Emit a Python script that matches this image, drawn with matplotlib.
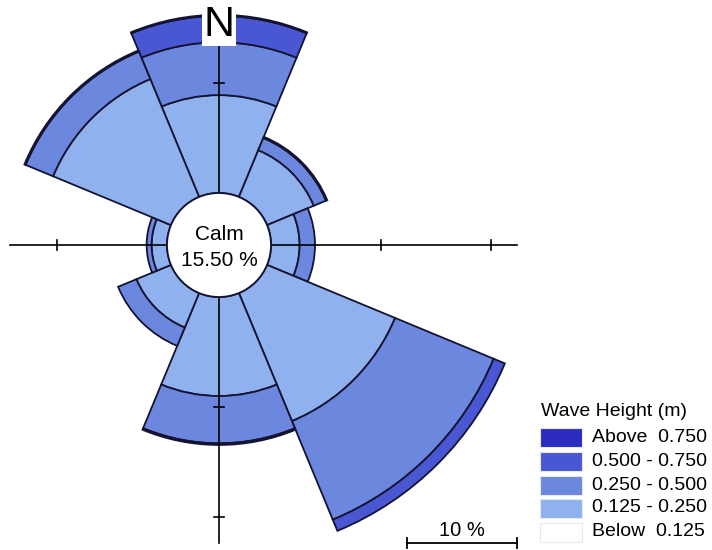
import numpy as np
import matplotlib
matplotlib.use('Agg')
import matplotlib.pyplot as plt
from matplotlib.patches import Wedge, Circle, Rectangle

plt.rcParams['font.family'] = ['Liberation Sans', 'DejaVu Sans']

# 波高玫瑰图数据 (百分比)
directions = ['N', 'NE', 'E', 'SE', 'S', 'SW', 'W', 'NW']
dir_deg = [0, 45, 90, 135, 180, 225, 270, 315]
h_below_0125 = [0.0, 0.0, 0.0, 0.0, 0.0, 0.0, 0.0, 0.0]
h_0125_0250 = [8.9, 4.6, 2.6, 12.6, 9.0, 3.4, 1.4, 11.6]
h_0250_0500 = [4.8, 1.2, 1.4, 9.7, 4.3, 1.8, 0.45, 2.7]
h_0500_0750 = [2.4, 0.12, 0.0, 1.1, 0.15, 0.0, 0.0, 0.12]
h_above_0750 = [0.1, 0.0, 0.0, 0.0, 0.0, 0.0, 0.0, 0.0]
calm_pct = 15.50

bands = [h_below_0125, h_0125_0250, h_0250_0500, h_0500_0750, h_above_0750]
band_labels = ['Below  0.125', '0.125 - 0.250', '0.250 - 0.500',
               '0.500 - 0.750', 'Above  0.750']
band_colors = ['#ffffff', '#8fb1ee', '#6b87de', '#4a57d2', '#2b2cbf']

W, H = 712, 550
cx, cy = 219, H - 245      # 圆心 (像素)
calm_r = 52                 # 静风圆半径
k = 11.0                    # 1% 对应像素
edge = '#141432'

fig = plt.figure(figsize=(W / 100, H / 100), dpi=100)
ax = fig.add_axes([0, 0, 1, 1])
ax.set_xlim(0, W)
ax.set_ylim(0, H)
ax.set_aspect('equal')
ax.axis('off')

# 扇形
for i, d in enumerate(dir_deg):
    r0 = calm_r
    t1 = 90 - d - 22.5
    t2 = 90 - d + 22.5
    for b, vals in enumerate(bands):
        v = vals[i]
        if v <= 0:
            continue
        r1 = r0 + v * k
        ax.add_patch(Wedge((cx, cy), r1, t1, t2, width=r1 - r0,
                           facecolor=band_colors[b], edgecolor=edge,
                           linewidth=1.3, zorder=2))
        r0 = r1

# 坐标轴十字线
ax.plot([10, 517], [cy, cy], color='black', lw=1.2, zorder=3)
ax.plot([cx, cx], [H - 543, H - 45], color='black', lw=1.2, zorder=3)
for p in [10, 20]:
    r = calm_r + p * k
    for sx, sy in [(1, 0), (-1, 0), (0, 1), (0, -1)]:
        tx, ty = cx + sx * r, cy + sy * r
        if tx < 10 or ty > H - 45:
            continue
        if sx != 0:
            ax.plot([tx, tx], [ty - 5, ty + 5], color='black', lw=1.2, zorder=3)
        else:
            ax.plot([tx - 5, tx + 5], [ty, ty], color='black', lw=1.2, zorder=3)

# 静风圆
ax.add_patch(Circle((cx, cy), calm_r, facecolor='white', edgecolor=edge,
                    linewidth=1.3, zorder=4))
ax.text(cx, H - 235, 'Calm', ha='center', va='center', fontsize=15, zorder=5)
ax.text(cx, H - 261, '%.2f %%' % calm_pct, ha='center', va='center',
        fontsize=15, zorder=5)

# 北
ax.text(cx, H - 25, 'N', ha='center', va='center', fontsize=31, zorder=6,
        bbox=dict(facecolor='white', edgecolor='none', pad=1))

# 比例尺
ax.plot([407, 517], [H - 543, H - 543], color='black', lw=1.3)
ax.plot([407, 407], [H - 538, H - 548], color='black', lw=1.3)
ax.plot([517, 517], [H - 538, H - 548], color='black', lw=1.3)
ax.text(462, H - 530, '10 %', ha='center', va='center', fontsize=14.5)

# 图例
ax.text(541, H - 412, 'Wave Height (m)', ha='left', va='center', fontsize=14)
row_y = [437, 461, 485, 508, 532]
for j, b in enumerate(range(4, -1, -1)):
    y = H - row_y[j]
    ax.add_patch(Rectangle((540, y - 9.5), 42, 19, facecolor=band_colors[b],
                           edgecolor='#e8e8f0', linewidth=0.8))
    ax.text(592, y, band_labels[b], ha='left', va='center', fontsize=14)

fig.savefig('out.png', dpi=100)
